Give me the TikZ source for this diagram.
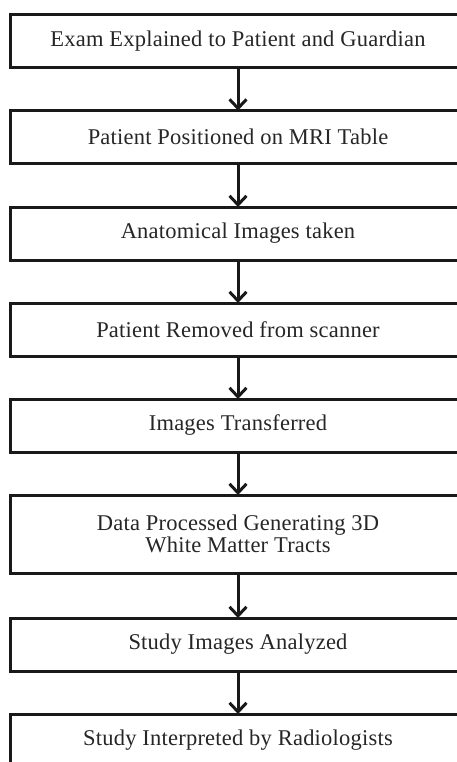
\documentclass[tikz,border=0pt]{standalone}
\usepackage{fontspec}
\setmainfont{Liberation Serif}[LetterSpace=1]
\usetikzlibrary{arrows.meta}
\tikzset{
  stepbox/.style={draw=black!90, line width=3pt, rectangle, minimum width=456pt,
    minimum height=53pt, inner sep=0pt, outer sep=0pt, align=center,
    font=\fontsize{22.5}{22}\selectfont, text=black!85},
  flow/.style={draw=black!90, line width=3pt, -{Straight Barb[length=9pt,width=17pt,line width=3pt]}}
}
\begin{document}
\begin{tikzpicture}[x=1pt,y=-1pt]
\useasboundingbox (0,0) rectangle (457,762);
\clip (0,0) rectangle (457,762);
\fill[white] (0,0) rectangle (457,762);
\node[stepbox] (b1) at (238,41.5) {Exam Explained to Patient and Guardian};
\node[stepbox] (b2) at (238,137) {Patient Positioned on MRI Table};
\node[stepbox] (b3) at (238,233.5) {Anatomical Images taken};
\node[stepbox] (b4) at (238,329.5) {Patient Removed from scanner};
\node[stepbox] (b5) at (238,425.5) {Images Transferred};
\node[stepbox, minimum height=78pt] (b6) at (238,534) {Data Processed Generating 3D\\White Matter Tracts};
\node[stepbox] (b7) at (238,644.5) {Study Images Analyzed};
\node[stepbox] (b8) at (238,740.5) {Study Interpreted by Radiologists};
\draw[flow] (b1) -- (b2);
\draw[flow] (b2) -- (b3);
\draw[flow] (b3) -- (b4);
\draw[flow] (b4) -- (b5);
\draw[flow] (b5) -- (b6);
\draw[flow] (b6) -- (b7);
\draw[flow] (b7) -- (b8);
\end{tikzpicture}
\end{document}
